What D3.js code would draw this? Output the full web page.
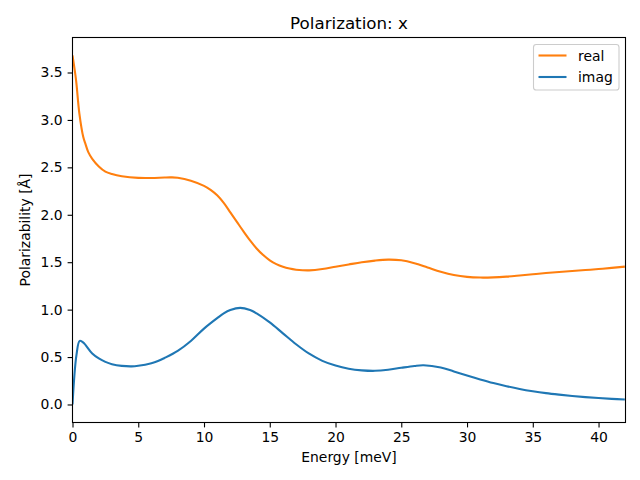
<!DOCTYPE html>
<html><head><meta charset="utf-8">
<script src="https://cdn.jsdelivr.net/npm/d3@7"></script>
<style>body{margin:0;background:#fff}text{font-family:"DejaVu Sans",sans-serif}</style>
</head><body><svg id="c" width="640" height="480"></svg>
<script>
const realX = [0,0.27,0.52,0.82,1.0,1.2,1.5,2,2.5,3,3.75,5,6,7,7.5,8,9,10,10.5,11,11.5,12,12.5,13,13.5,14,14.5,15,15.5,16,16.5,17,17.5,18,19,20,21,22,23,24,25,26,27,28,29,30,31,32,33,34,35,36,37,38,39,40,41,42];
const realY = [3.68,3.42,3.07,2.82,2.74,2.66,2.59,2.51,2.455,2.43,2.407,2.389,2.388,2.393,2.394,2.39,2.36,2.305,2.262,2.205,2.125,2.025,1.925,1.825,1.73,1.645,1.575,1.52,1.48,1.452,1.433,1.421,1.415,1.414,1.428,1.452,1.476,1.499,1.517,1.527,1.52,1.49,1.445,1.40,1.365,1.345,1.338,1.34,1.348,1.36,1.373,1.386,1.397,1.407,1.417,1.428,1.44,1.453];
const imagX = [0,0.3,0.55,0.85,1.0,1.5,2,2.5,3,3.75,4.5,5,6,6.5,7,8,9,10,11,11.5,12,12.75,13.5,14,15,16,17,18,19,20,21,22,23,24,25,26,26.7,28,29,30,31,32,33,34,35,36,37,38,39,40,41,42];
const imagY = [0,0.52,0.67,0.65,0.625,0.537,0.485,0.449,0.425,0.407,0.402,0.408,0.435,0.458,0.49,0.565,0.67,0.80,0.91,0.96,0.995,1.018,0.995,0.96,0.865,0.75,0.635,0.535,0.46,0.41,0.377,0.36,0.355,0.366,0.387,0.406,0.413,0.39,0.348,0.305,0.264,0.226,0.193,0.164,0.14,0.12,0.104,0.09,0.078,0.068,0.059,0.052];
const xTicks = [0,5,10,15,20,25,30,35,40];
const yTicks = [0,0.5,1,1.5,2,2.5,3,3.5];
const seriesNames = ["real","imag"];
const colors = ["#ff7f0e","#1f77b4"];

const svg = d3.select("#c");
const L=72.5,R=625.5,T=37.5,B=422.5;
const x = d3.scaleLinear().domain([0,42.05]).range([L,R]);
const y = d3.scaleLinear().domain([-0.19,3.869]).range([B,T]);

const fs = "13.9px";
const xa = svg.append("g").attr("transform",`translate(0,${B})`)
  .call(d3.axisBottom(x).tickValues(xTicks).tickFormat(d3.format("d")).tickSizeOuter(0).tickSize(4.9).tickPadding(4.9));
const ya = svg.append("g").attr("transform",`translate(${L},0)`)
  .call(d3.axisLeft(y).tickValues(yTicks).tickFormat(d3.format(".1f")).tickSizeOuter(0).tickSize(4.9).tickPadding(4.9));
[xa,ya].forEach(a=>{a.select(".domain").remove();a.selectAll("line").attr("stroke","#000").attr("stroke-width",1.1);
  a.selectAll("text").attr("font-family","DejaVu Sans").attr("font-size",fs).attr("fill","#000");});

const line = d3.line().x(d=>x(d[0])).y(d=>y(d[1])).curve(d3.curveCatmullRom.alpha(0.5));
svg.append("clipPath").attr("id","cp").append("rect").attr("x",L).attr("y",T).attr("width",R-L).attr("height",B-T);
svg.append("path").datum(realX.map((v,i)=>[v,realY[i]])).attr("d",line).attr("fill","none").attr("stroke",colors[0]).attr("stroke-width",2.1).attr("clip-path","url(#cp)");
svg.append("path").datum(imagX.map((v,i)=>[v,imagY[i]])).attr("d",line).attr("fill","none").attr("stroke",colors[1]).attr("stroke-width",2.1).attr("clip-path","url(#cp)");

svg.append("rect").attr("x",L).attr("y",T).attr("width",R-L).attr("height",B-T).attr("fill","none").attr("stroke","#000").attr("stroke-width",1.1);

svg.append("text").attr("x",(L+R)/2).attr("y",T-9).attr("text-anchor","middle").attr("font-size","16.7px").text("Polarization: x");
svg.append("text").attr("x",(L+R)/2).attr("y",462).attr("text-anchor","middle").attr("font-size",fs).text("Energy [meV]");
svg.append("text").attr("transform",`translate(30,${(T+B)/2}) rotate(-90)`).attr("text-anchor","middle").attr("font-size",fs).text("Polarizability [Å]");

const lg = svg.append("g");
lg.append("rect").attr("x",533.5).attr("y",44.5).attr("width",85.5).attr("height",45.5).attr("rx",2.8).attr("fill","#fff").attr("fill-opacity",0.8).attr("stroke","#ccc").attr("stroke-width",1.1);
seriesNames.forEach((n,i)=>{
  const yy = 55.5 + i*21.5;
  lg.append("line").attr("x1",538.5).attr("x2",566.5).attr("y1",yy).attr("y2",yy).attr("stroke",colors[i]).attr("stroke-width",2.1);
  lg.append("text").attr("x",578).attr("y",yy+5).attr("font-size",fs).text(n);
});
</script></body></html>
